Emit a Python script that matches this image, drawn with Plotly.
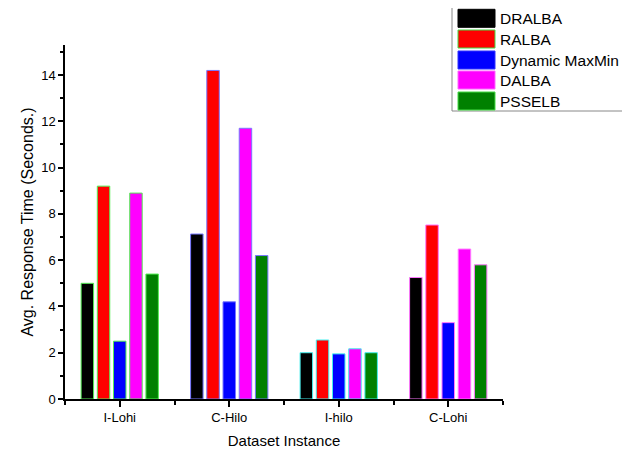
import plotly.graph_objects as go

categories = ["I-Lohi", "C-Hilo", "I-hilo", "C-Lohi"]
series_names = ["DRALBA", "RALBA", "Dynamic MaxMin", "DALBA", "PSSELB"]
series_colors = ["#000000", "#ff0000", "#0000ff", "#ff00ff", "#008000"]
dralba = [5.0, 7.13, 2.0, 5.25]
ralba = [9.2, 14.2, 2.55, 7.52]
dynamic_maxmin = [2.5, 4.2, 1.95, 3.3]
dalba = [8.9, 11.7, 2.17, 6.48]
psselb = [5.4, 6.2, 2.0, 5.8]
outline_colors = ["#55ee55", "#7777ff", "#44eeee", "#ff77ff"]
y_ticks = [0, 2, 4, 6, 8, 10, 12, 14]

series_values = [dralba, ralba, dynamic_maxmin, dalba, psselb]
xpos = list(range(len(categories)))

fig = go.Figure()
for name, color, vals in zip(series_names, series_colors, series_values):
    fig.add_trace(go.Bar(
        x=xpos, y=vals, name=name,
        marker=dict(color=color, line=dict(color=outline_colors, width=1)),
        showlegend=False,
    ))

# page body has an 8px default margin; compensate so window pixels match
OFF = 8
W, H = 630 - OFF, 456 - OFF
L, R, T, B = 65 - OFF, 503 - OFF, 45 - OFF, 399 - OFF


def px(x):
    return (x - OFF - L) / (R - L)


def py(y):
    return (B - (y - OFF)) / (B - T)


shapes = []
annotations = []
# legend box
shapes.append(dict(type="rect", xref="paper", yref="paper",
                   x0=px(452), x1=px(645), y0=py(111), y1=py(7),
                   line=dict(color="#888888", width=1), fillcolor="white", layer="below"))
row_tops = [9.3, 30, 51, 71, 92]
sw_outline = ["#000000", "#44dd44", "#3333ff", "#ff66ff", "#44dd44"]
for i, (name, color) in enumerate(zip(series_names, series_colors)):
    top = row_tops[i]
    shapes.append(dict(type="rect", xref="paper", yref="paper",
                       x0=px(458), x1=px(495), y0=py(top + 18), y1=py(top),
                       line=dict(color=sw_outline[i], width=1), fillcolor=color))
    annotations.append(dict(xref="paper", yref="paper", x=px(498), y=py(top + 9),
                            text=name, showarrow=False, xanchor="left", yanchor="middle",
                            font=dict(size=15.5, color="#000000")))

fig.update_layout(
    width=W, height=H,
    margin=dict(l=L, r=W - R, t=T, b=H - B),
    paper_bgcolor="white", plot_bgcolor="white",
    font=dict(family="Liberation Sans, Arial, sans-serif", color="#000000"),
    barmode="group", bargap=0.26, bargroupgap=0.23,
    shapes=shapes, annotations=annotations,
    xaxis=dict(
        range=[-0.5, 3.5], tickmode="array", tickvals=xpos, ticktext=categories,
        ticks="outside", ticklen=6, tickwidth=1.5, tickcolor="#000000",
        showline=True, linecolor="#000000", linewidth=1.5, showgrid=False, zeroline=False,
        tickfont=dict(size=13), automargin=False,
        minor=dict(tickmode="array", tickvals=[-0.5, 0.5, 1.5, 2.5, 3.5],
                   ticks="outside", ticklen=4, tickwidth=1.5, tickcolor="#000000", showgrid=False),
        title=dict(text="Dataset Instance", font=dict(size=15), standoff=11),
    ),
    yaxis=dict(
        range=[0, 15.3], tickmode="array", tickvals=y_ticks,
        ticks="outside", ticklen=5, tickwidth=1.5, tickcolor="#000000",
        showline=True, linecolor="#000000", linewidth=1.5, showgrid=False, zeroline=False,
        tickfont=dict(size=13), automargin=False,
        minor=dict(tickmode="linear", tick0=1, dtick=2, ticks="outside", ticklen=3,
                   tickwidth=1.5, tickcolor="#000000", showgrid=False),
        title=dict(text="Avg. Response Time (Seconds.)", font=dict(size=16), standoff=4),
    ),
)

fig.write_html("out.html")
